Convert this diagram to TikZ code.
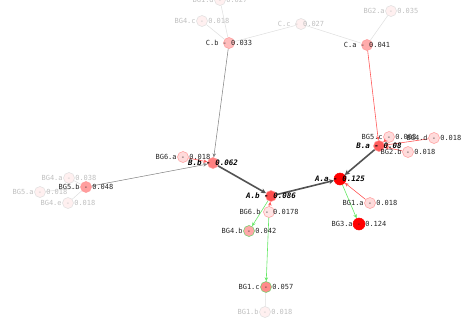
\documentclass[tikz,border=0pt]{standalone}
\usepackage{fontspec}
\setmonofont{DejaVu Sans Mono}
\usetikzlibrary{arrows.meta}
\begin{document}
\begin{tikzpicture}[x=1pt,y=-1pt,
  act/.style={circle,inner sep=0pt,minimum size=11pt,line width=0.5pt,draw=red!40,fill=red!#1!white},
  actg/.style={act=#1,draw=green!70!black!60},
  fad/.style={circle,inner sep=0pt,minimum size=11pt,line width=0.5pt,draw=black!13,fill=red!6!white},
  lbl/.style={font=\ttfamily\fontsize{7}{8}\selectfont,text=black!85,inner sep=0pt},
  flbl/.style={lbl,text=black!25},
  blbl/.style={inner sep=0pt,text=black,font=\ttfamily\bfseries\itshape\fontsize{7.5}{8}\selectfont},
  fedge/.style={draw=black!13,line width=0.5pt},
  gedge/.style={draw=black!50,line width=0.5pt,-{Stealth[length=4pt,width=3.5pt]}},
  redge/.style={draw=red!65,line width=0.6pt,-{Stealth[length=4pt,width=3.5pt]}},
  gredge/.style={draw=green!85!black!60,line width=0.6pt,-{Stealth[length=4pt,width=3.5pt]}},
  tedge/.style={draw=black!68,line width=1.6pt,-{Stealth[length=5pt,width=5pt]}}
]
\useasboundingbox (0,0) rectangle (472,330);
% nodes (circles)
\node[fad] (BG1d) at (220,0) {};
\node[fad] (BG4c) at (202,21) {};
\node[fad] (Cc) at (301,24) {};
\node[act=26] (Cb) at (229,43) {};
\node[fad] (BG2a) at (391,11) {};
\node[act=33] (Ca) at (367,45) {};
\node[act=64] (Ba) at (379,146) {};
\node[act=14] (BG5c) at (389,137) {};
\node[act=14] (BG4d) at (434,138) {};
\node[act=14] (BG2b) at (408,152) {};
\node[act=100,minimum size=12pt,draw=red] (Aa) at (340,179) {};
\node[act=14] (BG1a) at (370,203) {};
\node[act=100,minimum size=12pt,draw=red] (BG3a) at (359,224) {};
\node[act=50] (Bb) at (213,163) {};
\node[act=14] (BG6a) at (183,157) {};
\node[act=38] (BG5b) at (86,187) {};
\node[fad] (BG4a) at (69,178) {};
\node[fad] (BG5a) at (40,192) {};
\node[fad] (BG4e) at (68,203) {};
\node[act=69] (Ab) at (271,196) {};
\node[act=10] (BG6b) at (269,212) {};
\node[actg=34] (BG4b) at (249,231) {};
\node[actg=46] (BG1c) at (266,287) {};
\node[fad] (BG1b) at (265,312) {};
% edges
\draw[fedge] (BG1d) -- (Cb);
\draw[fedge] (BG4c) -- (Cb);
\draw[fedge] (Cc) -- (Cb);
\draw[fedge] (Cc) -- (Ca);
\draw[fedge] (BG2a) -- (Ca);
\draw[fedge] (BG4a) -- (BG5b);
\draw[fedge] (BG5a) -- (BG5b);
\draw[fedge] (BG4e) -- (BG5b);
\draw[fedge] (BG1b) -- (BG1c);
\draw[gedge] (Cb) -- (Bb);
\draw[gedge] (BG5b) -- (Bb);
\draw[redge] (Ca) -- (Ba);
\draw[redge] (BG5c) -- (Ba);
\draw[redge] (BG4d) -- (Ba);
\draw[redge] (BG2b) -- (Ba);
\draw[redge] (BG6a) -- (Bb);
\draw[redge] (BG1a) -- (Aa);
\draw[redge] (BG6b) -- (Ab);
\draw[gredge] (Aa) -- (BG3a);
\draw[gredge] (Ab) -- (BG4b);
\draw[gredge] (BG6b) -- (BG1c);
\draw[tedge] (Ba) -- (Aa);
\draw[tedge] (Bb) -- (Ab);
\draw[tedge] (Ab) -- (Aa);
% labels
\node[flbl] (BG1dl) at (BG1d) {BG1.d - 0.027};
\node[flbl] (BG4cl) at (BG4c) {BG4.c - 0.018};
\node[flbl] (Ccl) at (Cc) {C.c - 0.027};
\node[lbl] (Cbl) at (Cb) {C.b - 0.033};
\node[flbl] (BG2al) at (BG2a) {BG2.a - 0.035};
\node[lbl] (Cal) at (Ca) {C.a - 0.041};
\node[lbl] (BG5cl) at (BG5c) {BG5.c - 0.008};
\node[lbl] (BG4dl) at (BG4d) {BG4.d - 0.018};
\node[lbl] (BG2bl) at (BG2b) {BG2.b - 0.018};
\node[blbl] (Bal) at (Ba) {B.a - 0.08};
\node[blbl] (Aal) at (Aa) {A.a - 0.125};
\node[lbl] (BG1al) at (BG1a) {BG1.a - 0.018};
\node[lbl] (BG3al) at (BG3a) {BG3.a - 0.124};
\node[blbl] (Bbl) at (Bb) {B.b - 0.062};
\node[lbl] (BG6al) at (BG6a) {BG6.a - 0.018};
\node[lbl] (BG5bl) at (BG5b) {BG5.b - 0.048};
\node[flbl] (BG4al) at (BG4a) {BG4.a - 0.038};
\node[flbl] (BG5al) at (BG5a) {BG5.a - 0.018};
\node[flbl] (BG4el) at (BG4e) {BG4.e - 0.018};
\node[blbl] (Abl) at (Ab) {A.b - 0.086};
\node[lbl] (BG6bl) at (BG6b) {BG6.b - 0.0178};
\node[lbl] (BG4bl) at (BG4b) {BG4.b - 0.042};
\node[lbl] (BG1cl) at (BG1c) {BG1.c - 0.057};
\node[flbl] (BG1bl) at (BG1b) {BG1.b - 0.018};
\end{tikzpicture}
\end{document}
